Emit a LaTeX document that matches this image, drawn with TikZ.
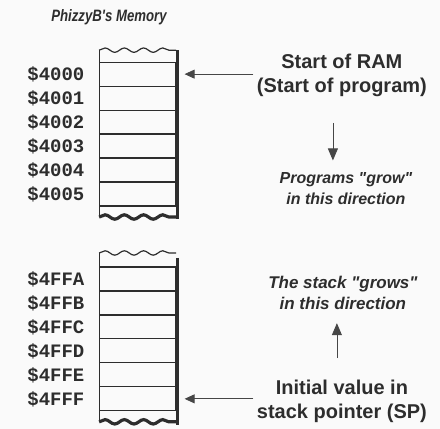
\documentclass[tikz,border=0pt]{standalone}
\usepackage{fontspec}
\setmainfont{Liberation Sans}[Ligatures=TeXOff]
\newfontfamily\addrfont{Liberation Mono}
\newfontfamily\titlefont{Liberation Sans}[FakeStretch=0.8]
\usetikzlibrary{arrows.meta, positioning, decorations.pathmorphing}
\definecolor{inkgray}{RGB}{45, 45, 45}
\definecolor{arrowgray}{RGB}{70, 70, 70}
\definecolor{paper}{RGB}{250, 250, 250}
\tikzset{
  memcell/.style={draw=inkgray, line width=1.2pt, minimum width=77pt,
                  minimum height=24pt, inner sep=0pt},
  addr/.style={font=\addrfont\bfseries\fontsize{19}{22}\selectfont,
               text=inkgray, inner sep=0pt},
  note/.style={font=\bfseries\fontsize{20}{24}\selectfont, text=inkgray,
               align=center},
  itnote/.style={font=\bfseries\itshape\fontsize{16}{21}\selectfont,
                 text=inkgray, align=center},
  pointer/.style={arrowgray, line width=0.8pt,
                  -{Triangle[length=10pt, width=9pt]}},
  tornedge/.style={decorate, decoration={snake, amplitude=2.2pt,
                   segment length=19.25pt}},
}

\begin{document}
\begin{tikzpicture}[x=1pt, y=-1pt]
  \useasboundingbox[fill=paper, draw=paper] (0,0) rectangle (440,428);
  % title
  \node[anchor=base west, inner sep=0pt, text=inkgray,
        font=\titlefont\bfseries\itshape\fontsize{16.5}{19}\selectfont]
    (title) at (51,21) {PhizzyB's Memory};
  % start of RAM block
  \foreach \i/\addr in {0/4000, 1/4001, 2/4002, 3/4003, 4/4004, 5/4005} {
    \node[memcell] (ram\i) at (137.5, 74+24*\i) {};
    \node[addr, left=14pt of ram\i] (ramaddr\i) {\$\addr};
  }
  \draw[inkgray, line width=1.2pt] (99,50) -- (99,62);
  \draw[inkgray, line width=1.2pt] (99,206) -- (99,217);
  \draw[inkgray, line width=1.2pt, tornedge] (99,50) -- (176,50);
  \draw[inkgray, line width=3.2pt, tornedge] (99,217) -- (177,217);
  \draw[inkgray, line width=3.5pt] (177.5,50) -- (177.5,219);
  % top of stack block
  \foreach \i/\addr in {0/4FFA, 1/4FFB, 2/4FFC, 3/4FFD, 4/4FFE, 5/4FFF} {
    \node[memcell] (stk\i) at (137.5, 279+24*\i) {};
    \node[addr, left=14pt of stk\i] (stkaddr\i) {\$\addr};
  }
  \draw[inkgray, line width=1.2pt] (99,253) -- (99,267);
  \draw[inkgray, line width=1.2pt] (99,411) -- (99,422);
  \draw[inkgray, line width=1.2pt, tornedge] (99,253) -- (176,253);
  \draw[inkgray, line width=3.2pt, tornedge] (99,422) -- (177,422);
  \draw[inkgray, line width=3.5pt] (177.5,258) -- (177.5,425);
  % notes
  \node[note] (ramnote) at (342,75) {Start of RAM\\(Start of program)};
  \node[itnote] (grownote) at (346,189) {Programs "grow"\\in this direction};
  \node[itnote, font=\bfseries\itshape\fontsize{17}{21}\selectfont]
    (stacknote) at (343,293) {The stack "grows"\\in this direction};
  \node[note] (spnote) at (342,401) {Initial value in\\stack pointer (SP)};
  % pointers
  \draw[pointer, shorten >=8pt] (ramnote.west |- ram0.east) -- (ram0.east);
  \draw[pointer, shorten >=8pt] (spnote.west |- stk5.east) -- (stk5.east);
  \draw[pointer, -{Triangle[length=12pt, width=10pt]}, shorten <=23pt,
        shorten >=9pt] ([xshift=-9pt]ramnote.south)
    -- ([xshift=-9pt]ramnote.south |- grownote.north);
  \draw[pointer, -{Triangle[length=12pt, width=10pt]}, shorten <=18pt,
        shorten >=10pt] ([xshift=-5pt]spnote.north)
    -- ([xshift=-5pt]spnote.north |- stacknote.south);
\end{tikzpicture}
\end{document}
